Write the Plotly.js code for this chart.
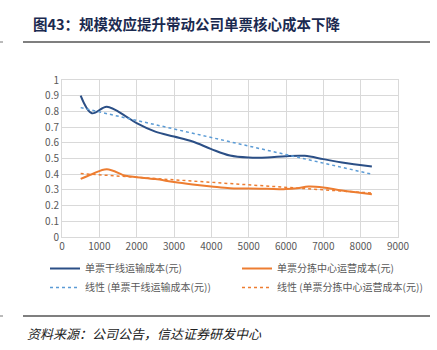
<!DOCTYPE html>
<html><head><meta charset="utf-8">
<script src="https://cdn.plot.ly/plotly-3.0.1.min.js"></script>
<style>html,body{margin:0;padding:0;background:#fff}#c{width:437px;height:350px}</style>
</head><body><div id="c"></div>
<script>
const xs = [500, 800, 1200, 1700, 2000, 2500, 3000, 3500, 4000, 4500, 5000, 5500, 6000, 6500, 7000, 7500, 8300];
const trunk = [0.90, 0.788, 0.83, 0.77, 0.725, 0.671, 0.64, 0.608, 0.56, 0.519, 0.506, 0.506, 0.515, 0.517, 0.496, 0.474, 0.449];
const sortx = [500, 800, 1200, 1700, 2000, 2500, 3000, 3500, 4000, 4500, 5000, 5500, 6000, 6300, 6600, 7000, 7500, 8300];
const sort = [0.37, 0.40, 0.432, 0.39, 0.381, 0.369, 0.35, 0.335, 0.322, 0.31, 0.309, 0.307, 0.305, 0.31, 0.322, 0.316, 0.296, 0.273];
const trendX = [500, 8300];
const trunkTrend = [0.824, 0.40];
const sortTrend = [0.404, 0.28];
const names = ['单票干线运输成本(元)', '单票分拣中心运营成本(元)', '线性 (单票干线运输成本(元))', '线性 (单票分拣中心运营成本(元))'];
const xTicks = [0,1000,2000,3000,4000,5000,6000,7000,8000,9000];
const yTicks = [0,0.1,0.2,0.3,0.4,0.5,0.6,0.7,0.8,0.9,1];

const data = [
  {x: xs, y: trunk, name: names[0], legend: 'legend', mode: 'lines', line: {color: '#2B4F86', width: 2, shape: 'spline', smoothing: 1}},
  {x: sortx, y: sort, name: names[1], legend: 'legend2', mode: 'lines', line: {color: '#ED7D31', width: 2, shape: 'spline', smoothing: 1}},
  {x: trendX, y: trunkTrend, name: names[2], legend: 'legend', mode: 'lines', line: {color: '#5B9BD5', width: 1.5, dash: 'dot'}},
  {x: trendX, y: sortTrend, name: names[3], legend: 'legend2', mode: 'lines', line: {color: '#ED7D31', width: 1.5, dash: 'dot'}}
];
const PW = 336, PH = 157;
const legendBase = {orientation: 'v', xanchor: 'left', y: (237-254)/PH, yanchor: 'top', font: {size: 10, color: '#595959'},
  itemwidth: 30, bgcolor: 'rgba(0,0,0,0)', tracegroupgap: 0};
const layout = {
  width: 437, height: 350,
  margin: {l: 62, r: 39, t: 80, b: 113, autoexpand: false},
  paper_bgcolor: '#fff', plot_bgcolor: '#fff',
  font: {family: '"Noto Sans CJK SC", "Noto Sans", sans-serif', color: '#595959', size: 10},
  title: {text: '<b>图43：规模效应提升带动公司单票核心成本下降</b>', x: 33/437, xanchor: 'left', y: 1 - 25/350, yanchor: 'middle', xref: 'container', yref: 'container',
          font: {family: '"Noto Sans CJK SC", sans-serif', size: 14.5, color: '#1B2A50'}},
  xaxis: {range: [0, 9000], tickvals: xTicks, ticktext: xTicks.map(String), showgrid: true, gridcolor: '#d9d9d9', gridwidth: 1,
          zeroline: false, showline: true, linecolor: '#d9d9d9', mirror: true, ticks: '', tickfont: {size: 10, color: '#595959'}},
  yaxis: {range: [0, 1], tickvals: yTicks, ticktext: yTicks.map(String), showgrid: true, gridcolor: '#d9d9d9', gridwidth: 1,
          zeroline: false, showline: true, linecolor: '#d9d9d9', mirror: true, ticks: '', tickfont: {size: 10, color: '#595959'}},
  showlegend: true,
  legend: Object.assign({}, legendBase, {x: (45-62)/PW}),
  legend2: Object.assign({}, legendBase, {x: (237-62)/PW}),
  shapes: [
    {type: 'line', xref: 'paper', yref: 'paper', x0: (23-62)/PW, x1: (430-62)/PW, y0: (237-42)/PH, y1: (237-42)/PH, line: {color: '#555', width: 1.5}},
    {type: 'line', xref: 'paper', yref: 'paper', x0: (23-62)/PW, x1: (430-62)/PW, y0: (237-316)/PH, y1: (237-316)/PH, line: {color: '#555', width: 1.5}},
    {type: 'line', xref: 'paper', yref: 'paper', x0: (0-62)/PW, x1: (3-62)/PW, y0: (237-42)/PH, y1: (237-42)/PH, line: {color: '#777', width: 1}},
    {type: 'line', xref: 'paper', yref: 'paper', x0: (0-62)/PW, x1: (3-62)/PW, y0: (237-316)/PH, y1: (237-316)/PH, line: {color: '#777', width: 1}}
  ],
  annotations: [
    {text: '<i>资料来源：公司公告，信达证券研发中心</i>', xref: 'paper', yref: 'paper', x: (25-62)/PW, y: (237-333)/PH, xanchor: 'left', yanchor: 'middle',
     showarrow: false, font: {size: 13, color: '#222', family: '"Noto Sans CJK SC", sans-serif'}}
  ]
};
Plotly.newPlot('c', data, layout, {displayModeBar: false, staticPlot: true});
</script></body></html>
